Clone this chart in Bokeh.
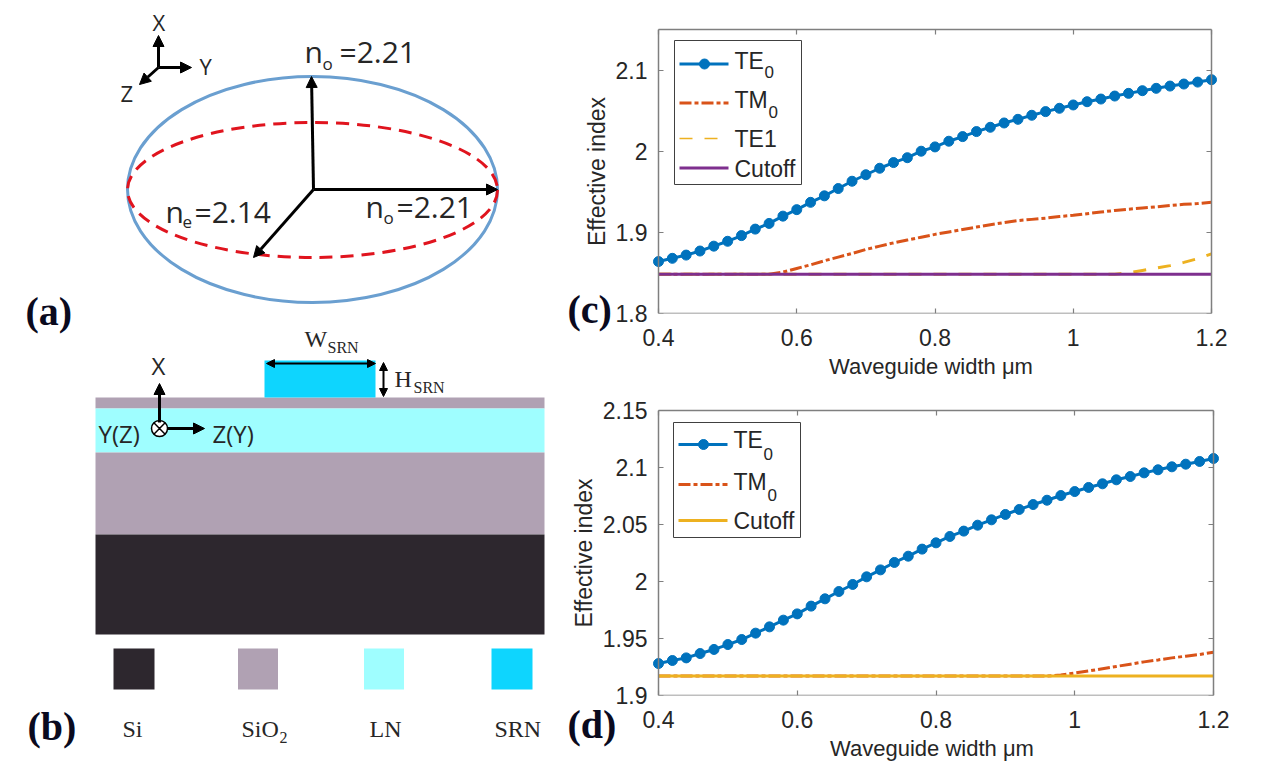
from bokeh.plotting import figure
from bokeh.layouts import row, column
from bokeh.models import Range1d, Label, Arrow, NormalHead, LinearAxis, FixedTicker
from bokeh.embed import file_html
from bokeh.resources import INLINE

# ---------------- data ----------------
width_um = [0.40,0.42,0.44,0.46,0.48,0.50,0.52,0.54,0.56,0.58,0.60,0.62,0.64,0.66,0.68,0.70,0.72,0.74,0.76,0.78,
            0.80,0.82,0.84,0.86,0.88,0.90,0.92,0.94,0.96,0.98,1.00,1.02,1.04,1.06,1.08,1.10,1.12,1.14,1.16,1.18,1.20]
c_te0 = [1.864,1.868,1.872,1.877,1.883,1.889,1.896,1.904,1.911,1.920,1.928,1.937,1.945,1.954,1.963,1.971,1.979,1.986,1.992,2.000,
         2.0053,2.0123,2.018,2.0242,2.0295,2.0348,2.0393,2.0443,2.0488,2.0529,2.057,2.061,2.0643,2.068,2.0713,2.0746,2.0775,2.0803,2.0828,2.0852,2.0881]
c_tm0 = [1.8484,1.8484,1.8484,1.8484,1.8484,1.8484,1.8484,1.8484,1.8484,1.851,1.8555,1.860,1.865,1.8695,1.874,1.879,1.883,1.887,1.8905,1.894,
         1.8975,1.9005,1.9035,1.9065,1.9095,1.912,1.9145,1.9160,1.9175,1.9195,1.921,1.923,1.925,1.927,1.9285,1.930,1.9315,1.933,1.9345,1.9355,1.937]
c_te1 = [1.8484]*34 + [1.850,1.853,1.856,1.859,1.863,1.8675,1.8735]
c_cut = [1.8484]*41
d_te0 = [1.928,1.9307,1.933,1.9368,1.9404,1.9447,1.9491,1.9547,1.9602,1.9661,1.9716,1.9784,1.9848,1.9912,1.9974,2.0041,2.0102,2.0167,2.0222,2.0284,
         2.0339,2.0395,2.0442,2.0494,2.0541,2.0588,2.0632,2.0675,2.0713,2.0754,2.0789,2.0825,2.0857,2.0892,2.0921,2.0953,2.098,2.1006,2.1029,2.1053,2.1079]
d_tm0 = [1.917]*29 + [1.918,1.9197,1.9215,1.9235,1.9255,1.9275,1.9295,1.9312,1.933,1.9345,1.936,1.938]
d_cut = [1.917]*41

x_ticks = [0.4,0.6,0.8,1.0,1.2]
x_tick_labels = ["0.4","0.6","0.8","1","1.2"]
c_y_ticks = [1.8,1.9,2.0,2.1]
c_y_tick_labels = ["1.8","1.9","2","2.1"]
d_y_ticks = [1.9,1.95,2.0,2.05,2.1,2.15]
d_y_tick_labels = ["1.9","1.95","2","2.05","2.1","2.15"]

BLUE, ORANGE, YELLOW, PURPLE = "#0072BD", "#D95319", "#EDB120", "#7E2F8E"
AXC, TXT = "#7f7f7f", "#262626"
SANS, SERIF, OPEN = "Liberation Sans", "Liberation Serif", "Open Sans"
SI, SIO2, LN, SRN = "#2d272e", "#b0a1b3", "#9ffeff", "#0ed5fe"

# ---------------- left: schematics in page pixels ----------------
L = figure(width=560, height=769, x_range=Range1d(0,560), y_range=Range1d(769,0),
           output_backend="svg", toolbar_location=None, min_border=0)
L.axis.visible = False
L.grid.visible = False
L.outline_line_color = None

def T(fig, s, x, y, size, font=OPEN, color=TXT, style="normal", fx=lambda v: v, fy=lambda v: v, place=None):
    lab = Label(x=fx(x), y=fy(y-0.36*size), text=s, text_font=font, text_font_size=f"{size}px", text_color=color,
                text_font_style=style, text_align="left", text_baseline="alphabetic")
    if place:
        fig.add_layout(lab, place)
    else:
        fig.add_layout(lab)

def arrow(x0,y0,x1,y1,w=3,size=11,both=False):
    head = lambda: NormalHead(size=size, fill_color="black", line_color="black", line_width=1)
    L.add_layout(Arrow(end=head(), start=head() if both else None, x_start=x0,y_start=y0,x_end=x1,y_end=y1,
                       line_color="black", line_width=w))

# (a)
L.ellipse(x=312, y=189, width=370, height=226, fill_color=None, line_color="#6a9fd0", line_width=3)
L.ellipse(x=312, y=189.5, width=370, height=135, fill_color=None, line_color="#e0141e", line_width=3, line_dash="13 8")
arrow(313,189,311,76); arrow(313,189,497,189); arrow(313,189,253,257)
arrow(158,67,158,35); arrow(158,67,191,67); arrow(158,67,139,84)
T(L,"X",152,29,22); T(L,"Y",199,73,22); T(L,"Z",120,100,22)
T(L,"n",304,62,30); T(L,"o",322,69,17); T(L,"=2.21",339,62,30)
T(L,"n",165,222,30); T(L,"e",182,228,17); T(L,"=2.14",194,222,30)
T(L,"n",365,217,30); T(L,"o",383,223,17); T(L,"=2.21",396,217,30)
T(L,"(a)",25,325,40,SERIF,"#0a0a1e","bold")

# (b)
L.quad(left=95,right=544,top=397,bottom=408,fill_color=SIO2,line_color=None)
L.quad(left=95,right=544,top=408,bottom=452,fill_color=LN,line_color=None)
L.quad(left=95,right=544,top=452,bottom=534,fill_color=SIO2,line_color=None)
L.quad(left=95,right=544,top=534,bottom=634,fill_color=SI,line_color=None)
L.quad(left=264,right=375,top=360,bottom=397,fill_color=SRN,line_color=None)
arrow(266,363,375,363,2,8,True); arrow(383,362,383,396,2,8,True)
arrow(159,422,159,383); arrow(167,428,204,428)
L.scatter(x=[159],y=[428],size=16,marker="circle_x",fill_color="white",line_color="black",line_width=1.5)
T(L,"X",151,374,24); T(L,"Y(Z)",98,442,24); T(L,"Z(Y)",212,442,24)
T(L,"W",304,347,24,SERIF); T(L,"SRN",327,353,16,SERIF)
T(L,"H",394,387,24,SERIF); T(L,"SRN",413,393,16,SERIF)
for x0,x1,col in [(113,154,SI),(237.5,277.5,SIO2),(363.5,403.5,LN),(491,532,SRN)]:
    L.quad(left=x0,right=x1,top=648,bottom=689,fill_color=col,line_color=None)
T(L,"Si",122,737,24,SERIF); T(L,"SiO",241,737,24,SERIF); T(L,"2",279,743,16,SERIF)
T(L,"LN",369,737,24,SERIF); T(L,"SRN",494,737,24,SERIF)
T(L,"(b)",27,740,40,SERIF,"#0a0a1e","bold")

# ---------------- right: line charts ----------------
PADL, PADR = 16, 8   # horizontal room so that the end markers are not cut by the frame
def chart(top, bottom, ymin, ymax, yticks, ylabels, mb_top, mb_bottom, right, left=658):
    kx = (1.2-0.4)/(right-left); ky = (ymax-ymin)/(bottom-top)
    x0 = 0.4-PADL*kx
    p = figure(frame_width=right-left+PADL+PADR, frame_height=bottom-top,
               x_range=Range1d(x0,1.2+PADR*kx), y_range=Range1d(ymin,ymax),
               output_backend="svg", toolbar_location=None, x_axis_type=None, y_axis_type=None)
    p.min_border_left = left-PADL-560; p.min_border_right = 1272-right-PADR
    p.min_border_top = mb_top; p.min_border_bottom = mb_bottom
    p.grid.visible = False; p.outline_line_color = None
    def mk(ticks, labels, **kw):
        a = LinearAxis(ticker=FixedTicker(ticks=ticks), major_label_overrides=dict(zip(ticks,labels)), **kw)
        a.axis_line_color=AXC; a.axis_line_width=1.5; a.major_tick_line_color=AXC; a.major_tick_line_width=1.2
        a.major_tick_in=5; a.major_tick_out=0; a.minor_tick_line_color=None
        a.major_label_text_font=SANS; a.major_label_text_font_size="23px"; a.major_label_text_color=TXT
        a.axis_label_text_font=SANS; a.axis_label_text_font_size="22px"; a.axis_label_text_color=TXT
        a.axis_label_text_font_style="normal"
        return a
    blank = lambda t: [""]*len(t)
    # tick labels and titles sit on the frame's edge; lines and ticks at the data limits
    xb = mk(x_ticks,x_tick_labels,bounds=(x0,1.2),axis_label="Waveguide width \u03bcm",major_label_standoff=15,axis_label_standoff=5)
    xb.axis_line_color=None; xb.major_tick_line_color=None
    xl = mk(x_ticks,blank(x_ticks),fixed_location=ymin,bounds=(0.4,1.2))
    xt = mk(x_ticks,blank(x_ticks),bounds=(0.4,1.2))
    yl = mk(yticks,ylabels,axis_label="Effective index",major_label_standoff=-5,axis_label_standoff=3)
    yl.axis_label_text_font_size="23px"
    yl.axis_line_color=None; yl.major_tick_line_color=None
    y0 = mk(yticks,blank(yticks),fixed_location=0.4,bounds=(ymin,ymax))
    y1 = mk(yticks,blank(yticks),fixed_location=1.2,bounds=(ymin,ymax))
    p.add_layout(xb,"below"); p.add_layout(xl,"below"); p.add_layout(xt,"above"); p.add_layout(yl,"left")
    p.add_layout(y0,"left"); p.add_layout(y1,"right")
    p._px = lambda x: 0.4+(x-left)*kx
    p._py = lambda y: ymin+(bottom-y)*ky
    return p

def legend(p, box, rows):
    px,py = p._px,p._py
    x0,y0,x1,y1 = box
    p.quad(left=px(x0),right=px(x1),top=py(y0),bottom=py(y1),fill_color="white",line_color="#404040",line_width=1)
    for r in rows:
        p.line([px(x0+5),px(x0+54)],[py(r["y"])]*2,line_color=r["c"],line_width=r["w"],line_dash=r.get("dash","solid"))
        if r.get("m"): p.scatter([px(x0+30)],[py(r["y"])],size=10,fill_color=r["c"],line_color=r["c"])
        T(p,r["t"],x0+60,r["b"],23,SANS,fx=px,fy=py)
        if r.get("sub"): T(p,r["sub"][0],r["sub"][1],r["sub"][2],17,SANS,fx=px,fy=py)

TMD, T1D = "12 3 4 3", "13 12"

c = chart(29,313,1.8,2.15,c_y_ticks,c_y_tick_labels,29,82,1211)
c.line(width_um,c_te0,line_color=BLUE,line_width=3)
c.scatter(width_um,c_te0,size=10,fill_color=BLUE,line_color=BLUE)
c.line(width_um,c_tm0,line_color=ORANGE,line_width=3,line_dash=TMD)
c.line(width_um,c_te1,line_color=YELLOW,line_width=3,line_dash=T1D)
c.line(width_um,c_cut,line_color=PURPLE,line_width=3)
legend(c,(674,40,801,184),[
    dict(y=63.5,b=69,t="TE",sub=("0",764,78),c=BLUE,w=3,m=True),
    dict(y=102.5,b=108,t="TM",sub=("0",768,118),c=ORANGE,w=3,dash=TMD),
    dict(y=138,b=147,t="TE1",c=YELLOW,w=1.5,dash=T1D),
    dict(y=167.5,b=177,t="Cutoff",c=PURPLE,w=3)])
T(c,"(c)",567,323,40,SERIF,"#0a0a1e","bold",fx=c._px,fy=c._py,place="right")

d = chart(410,695,1.9,2.15,d_y_ticks,d_y_tick_labels,15,74,1213)
d.line(width_um,d_te0,line_color=BLUE,line_width=3)
d.scatter(width_um,d_te0,size=10,fill_color=BLUE,line_color=BLUE)
d.line(width_um,d_tm0,line_color=ORANGE,line_width=3,line_dash=TMD)
d.line(width_um,d_cut,line_color=YELLOW,line_width=3)
legend(d,(673,422,800,537),[
    dict(y=444,b=448,t="TE",sub=("0",763,460),c=BLUE,w=3,m=True),
    dict(y=484,b=490,t="TM",sub=("0",767,501),c=ORANGE,w=3,dash=TMD),
    dict(y=520,b=529,t="Cutoff",c=YELLOW,w=3)])
T(d,"(d)",567,738,40,SERIF,"#0a0a1e","bold",fx=d._px,fy=d._py,place="right")

for f in (c,d):
    del f._px, f._py
page = row(L, column(c, d, spacing=0), spacing=0)
open("out.html","w").write(file_html(page, INLINE))
